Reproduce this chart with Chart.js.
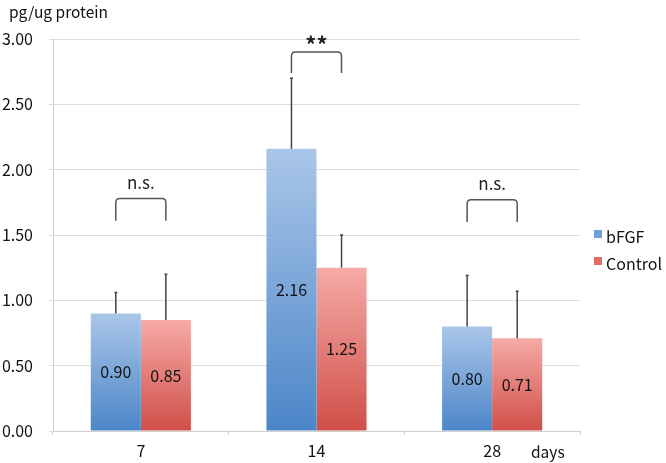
<!DOCTYPE html>
<html lang="en">
<head>
  <meta charset="UTF-8">
  <title>bFGF vs Control</title>
  <script src="https://cdn.jsdelivr.net/npm/chart.js"></script>
  <style>
    html, body { margin: 0; padding: 0; background: #fff; }
    #wrap { width: 666px; height: 463px; position: relative; }
  </style>
</head>
<body>
  <div id="wrap"><canvas id="barChart"></canvas></div>

  <script>
    // data
    const days = ['7', '14', '28'];
    const bfgf = [0.90, 2.16, 0.80];
    const control = [0.85, 1.25, 0.71];
    const bfgfErr = [0.16, 0.54, 0.39];
    const controlErr = [0.35, 0.25, 0.36];
    const sigText = ['n.s.', '**', 'n.s.'];
    const bracketTop = [1.78, 2.90, 1.77];
    const bracketLeg = [1.61, 2.74, 1.60];
    const yTicks = [0, 0.5, 1, 1.5, 2, 2.5, 3];

    const FONT = '"Noto Sans CJK JP", "Noto Sans", sans-serif';

    function barGradient(top, bottom) {
      return (ctx) => {
        const chart = ctx.chart;
        if (!chart.chartArea || ctx.raw === undefined) return bottom;
        const y = chart.scales.y;
        const g = chart.ctx.createLinearGradient(0, y.getPixelForValue(ctx.raw), 0, y.getPixelForValue(0));
        g.addColorStop(0, top);
        g.addColorStop(1, bottom);
        return g;
      };
    }

    const extras = {
      id: 'extras',
      afterDatasetsDraw(chart) {
        const c = chart.ctx;
        const y = chart.scales.y;
        const errs = [bfgfErr, controlErr];

        // error bars (upper only)
        c.save();
        c.strokeStyle = '#444';
        c.lineWidth = 1.5;
        errs.forEach((err, di) => {
          chart.getDatasetMeta(di).data.forEach((bar, i) => {
            const v = chart.data.datasets[di].data[i];
            const yTop = y.getPixelForValue(v + err[i]);
            c.beginPath();
            c.moveTo(bar.x, bar.y);
            c.lineTo(bar.x, yTop);
            c.moveTo(bar.x - 1.5, yTop);
            c.lineTo(bar.x + 1.5, yTop);
            c.stroke();
          });
        });

        // value labels in the middle of each bar
        c.fillStyle = '#111';
        c.font = '16px ' + FONT;
        c.textAlign = 'center';
        c.textBaseline = 'middle';
        [0, 1].forEach(di => {
          chart.getDatasetMeta(di).data.forEach((bar, i) => {
            const v = chart.data.datasets[di].data[i];
            c.fillText(v.toFixed(2), bar.x, y.getPixelForValue(v / 2));
          });
        });

        // significance brackets
        const a = chart.getDatasetMeta(0).data;
        const b = chart.getDatasetMeta(1).data;
        c.strokeStyle = '#555';
        c.lineWidth = 1.5;
        sigText.forEach((t, i) => {
          const x1 = a[i].x, x2 = b[i].x;
          const yT = y.getPixelForValue(bracketTop[i]);
          const yL = y.getPixelForValue(bracketLeg[i]);
          const r = 4;
          c.beginPath();
          c.moveTo(x1, yL);
          c.lineTo(x1, yT + r);
          c.quadraticCurveTo(x1, yT, x1 + r, yT);
          c.lineTo(x2 - r, yT);
          c.quadraticCurveTo(x2, yT, x2, yT + r);
          c.lineTo(x2, yL);
          c.stroke();
          c.fillStyle = '#222';
          c.font = (t === '**' ? 'bold 22px ' : '17px ') + FONT;
          c.fillText(t, (x1 + x2) / 2, yT - (t === '**' ? 7 : 16));
        });

        // unit labels
        c.textAlign = 'left';
        c.font = '15.5px ' + FONT;
        c.fillStyle = '#111';
        c.fillText('pg/ug protein', 9, 12);
        c.fillText('days', 531, 452);

        // legend
        const items = [['bFGF', '#6f9fd8'], ['Control', '#e06c66']];
        items.forEach((it, k) => {
          const ly = 237 + k * 27;
          c.fillStyle = it[1];
          c.fillRect(594, ly - 7, 8, 8);
          c.fillStyle = '#111';
          c.font = '16px ' + FONT;
          c.fillText(it[0], 606, ly);
        });
        c.restore();
      }
    };

    new Chart(document.getElementById('barChart'), {
      type: 'bar',
      data: {
        labels: days,
        datasets: [
          { label: 'bFGF', data: bfgf, backgroundColor: barGradient('#aac6e9', '#4c86c8') },
          { label: 'Control', data: control, backgroundColor: barGradient('#f6aaa6', '#d04f48') }
        ]
      },
      options: {
        responsive: true,
        maintainAspectRatio: false,
        animation: false,
        categoryPercentage: 0.57,
        barPercentage: 1.0,
        layout: { padding: { top: 39, right: 86, left: 0, bottom: 0 } },
        plugins: { legend: { display: false }, tooltip: { enabled: false } },
        scales: {
          x: {
            grid: { display: true, offset: true, drawOnChartArea: false, color: '#d0d0d0', tickLength: 4 },
            border: { color: '#d0d0d0' },
            ticks: { color: '#111', font: { size: 16, family: FONT }, padding: 6 },
            afterFit: (s) => { s.height = 32; }
          },
          y: {
            min: 0, max: 3,
            afterBuildTicks: (s) => { s.ticks = yTicks.map(v => ({ value: v })); },
            grid: { color: '#dcdcdc', tickLength: 4 },
            border: { color: '#d0d0d0' },
            ticks: { color: '#111', font: { size: 16, family: FONT }, padding: 16,
                     callback: (v) => Number(v).toFixed(2) },
            afterFit: (s) => { s.width = 53; }
          }
        }
      },
      plugins: [extras]
    });
  </script>
</body>
</html>
